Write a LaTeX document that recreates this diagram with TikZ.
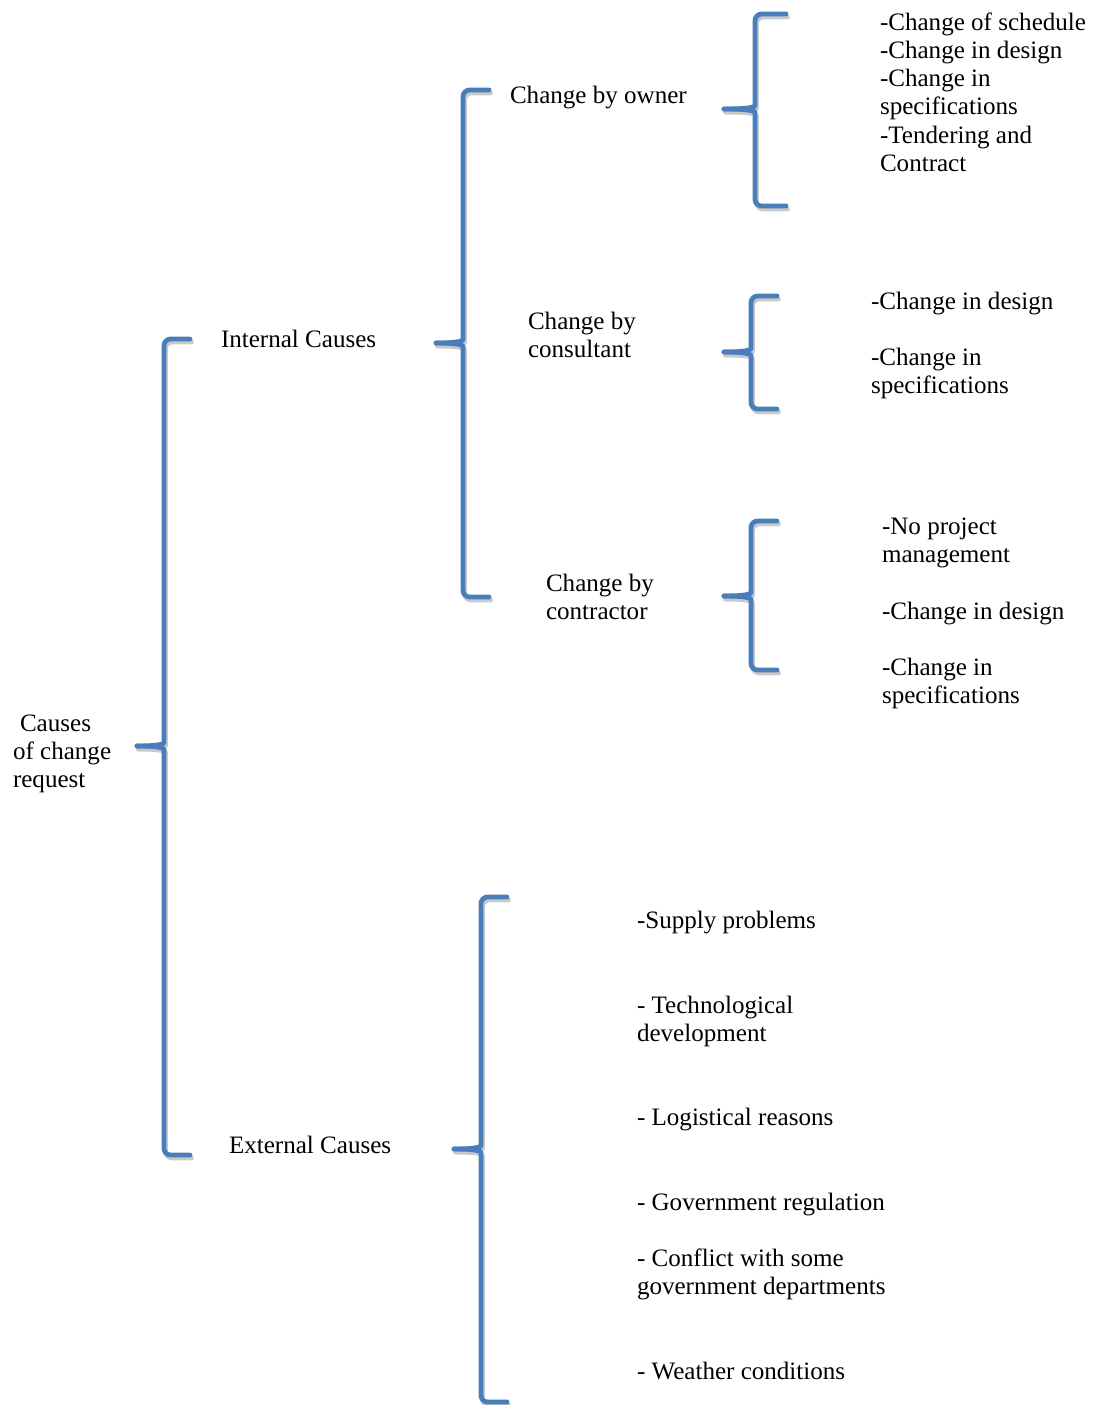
\documentclass[tikz,border=0pt]{standalone}
\usepackage{fontspec}
\setmainfont{Liberation Serif}
\definecolor{braceblue}{HTML}{4A7EBB}
\definecolor{braceshade}{HTML}{C9C9C9}
\tikzset{
  lbl/.style={anchor=base west, inner sep=0pt, outer sep=0pt, yshift=-0.75pt, font=\fontsize{18.8pt}{22pt}\selectfont},
  bracestroke/.style={line width=3.6pt, line cap=round, line join=round, rounded corners=5pt},
}
% left curly brace: #1 x of stem, #2 top y, #3 bottom y, #4 tip y, #5 tip x, #6 arm end x
\newcommand{\causebrace}[6]{%
  \foreach \col/\dx/\dy in {braceshade/1.5/3, braceblue/0/0}{
    \begin{scope}[shift={(\dx,\dy)}]
      \draw[bracestroke, draw=\col] (#6,#2) -- (#1,#2) -- (#1,#4-10)
        .. controls (#1,#4-2) and (#1-6,#4) .. (#5,#4);
      \draw[bracestroke, draw=\col] (#6,#3) -- (#1,#3) -- (#1,#4+10)
        .. controls (#1,#4+2) and (#1-6,#4) .. (#5,#4);
    \end{scope}
  }%
}
\begin{document}
\begin{tikzpicture}[x=0.75pt,y=-0.75pt]
\useasboundingbox (0,0) rectangle (1096,1405);

% braces
\causebrace{164}{339}{1155}{746}{137}{190}
\causebrace{463}{90}{597}{343}{436}{489}
\causebrace{755}{14}{206}{109}{724}{786}
\causebrace{751}{296}{409}{352}{724}{777}
\causebrace{751}{521}{670}{596}{724}{777}
\causebrace{481}{897}{1402}{1149}{454}{507}

% root
\node[lbl] (root1) at (20,730) {Causes};
\node[lbl] (root2) at (13,758) {of change};
\node[lbl] (root3) at (13,786) {request};

% main groups
\node[lbl] (internal) at (221,346) {Internal Causes};
\node[lbl] (external) at (229,1152) {External Causes};

% internal sub-groups
\node[lbl] (owner) at (510,103) {Change by owner};
\node[lbl] (consult1) at (528,328) {Change by};
\node[lbl] (consult2) at (528,356) {consultant};
\node[lbl] (contract1) at (546,590) {Change by};
\node[lbl] (contract2) at (546,618) {contractor};

% owner causes
\node[lbl] (ow1) at (880,30) {-Change of schedule};
\node[lbl] (ow2) at (880,58) {-Change in design};
\node[lbl] (ow3) at (880,86) {-Change in};
\node[lbl] (ow4) at (880,114) {specifications};
\node[lbl] (ow5) at (880,143) {-Tendering and};
\node[lbl] (ow6) at (880,171) {Contract};

% consultant causes
\node[lbl] (cs1) at (871,308) {-Change in design};
\node[lbl] (cs2) at (871,364) {-Change in};
\node[lbl] (cs3) at (871,392) {specifications};

% contractor causes
\node[lbl] (ct1) at (882,533) {-No project};
\node[lbl] (ct2) at (882,561) {management};
\node[lbl] (ct3) at (882,618) {-Change in design};
\node[lbl] (ct4) at (882,674) {-Change in};
\node[lbl] (ct5) at (882,702) {specifications};

% external causes
\node[lbl] (ex1) at (637,927) {-Supply problems};
\node[lbl] (ex2) at (637,1012) {- Technological};
\node[lbl] (ex3) at (637,1040) {development};
\node[lbl] (ex4) at (637,1124) {- Logistical reasons};
\node[lbl] (ex5) at (637,1209) {- Government regulation};
\node[lbl] (ex6) at (637,1265) {- Conflict with some};
\node[lbl] (ex7) at (637,1293) {government departments};
\node[lbl] (ex8) at (637,1378) {- Weather conditions};
\end{tikzpicture}
\end{document}
